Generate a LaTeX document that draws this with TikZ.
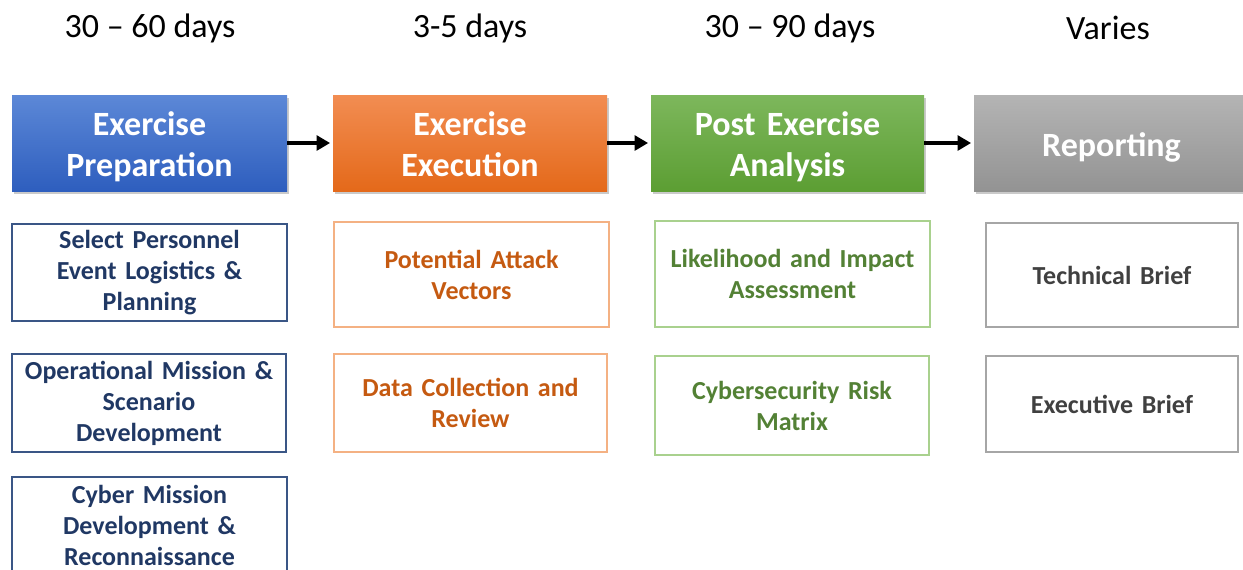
\documentclass[tikz,border=0pt]{standalone}
\usepackage{fontspec}
\setmainfont{Carlito}
\usetikzlibrary{arrows.meta,shadows}

\definecolor{prepTop}{HTML}{5C88D7}
\definecolor{prepBot}{HTML}{2E5EBE}
\definecolor{execTop}{HTML}{F28D52}
\definecolor{execBot}{HTML}{E4691A}
\definecolor{postTop}{HTML}{7DB75C}
\definecolor{postBot}{HTML}{5C9E33}
\definecolor{repTop}{HTML}{B4B4B4}
\definecolor{repBot}{HTML}{939393}
\definecolor{prepText}{HTML}{203864}
\definecolor{prepLine}{HTML}{3A5686}
\definecolor{execText}{HTML}{C55A11}
\definecolor{execLine}{HTML}{F4B183}
\definecolor{postText}{HTML}{538135}
\definecolor{postLine}{HTML}{A9D18E}
\definecolor{repText}{HTML}{404040}
\definecolor{repLine}{HTML}{A6A6A6}

\tikzset{
  days/.style={font=\fontsize{25.5}{30}\selectfont, text=black},
  phase/.style={minimum width=206.25pt, minimum height=72pt, inner sep=0pt,
    drop shadow={shadow xshift=1.5pt, shadow yshift=-2.2pt, opacity=0.35, fill=black!60}},
  phasetext/.style={inner sep=0pt, text width=200pt, align=center, text=white,
    font=\fontsize{25.5}{30.75}\selectfont\bfseries},
  task/.style={draw, line width=0.8pt, inner sep=0pt, align=center,
    font=\fontsize{19.5}{23.25}\selectfont\bfseries},
  flow/.style={->, line width=3pt, shorten >=2pt}
}

\begin{document}
\begin{tikzpicture}[x=0.75pt,y=-0.75pt,>={Triangle[length=10pt,width=11pt]}]
\clip (0,0) rectangle (1243,569);

% durations
\node[days] (dprep) at (150,28) {30 -- 60 days};
\node[days] (dexec) at (470,28) {3-5 days};
\node[days] (dpost) at (790,28) {30 -- 90 days};
\node[days] (drep) at (1108,28) {Varies};

% phases
\node[phase, top color=prepTop, bottom color=prepBot] (prep) at (149.5,143) {};
\node[phase, top color=execTop, bottom color=execBot, minimum width=205.5pt] (exec) at (470,143) {};
\node[phase, top color=postTop, bottom color=postBot, minimum width=204.75pt] (post) at (787.5,143) {};
\node[phase, top color=repTop, bottom color=repBot] (rep) at (1111.5,143) {};
\node[phasetext, yshift=-3pt] (prepT) at (prep) {Exercise\\Preparation};
\node[phasetext, yshift=-0.75pt] (execT) at (exec) {Exercise\\Execution};
\node[phasetext, yshift=-3pt] (postT) at (post) {Post Exercise\\Analysis};
\node[phasetext, yshift=-3pt] (repT) at (rep) {Reporting};

\draw[flow] (prep) -- (exec);
\draw[flow] (exec) -- (post);
\draw[flow] (post) -- (rep);

% preparation tasks
\node[task, draw=prepLine, text=prepText, minimum width=206.25pt, minimum height=72.75pt, text width=200pt] (prepA) at (149.5,272.5) {Select Personnel\\Event Logistics \&\\Planning};
\node[task, draw=prepLine, text=prepText, minimum width=205.5pt, minimum height=73.5pt, text width=200pt] (prepB) at (149,403) {Operational Mission \&\\Scenario\\Development};
\node[task, draw=prepLine, text=prepText, minimum width=206.25pt, minimum height=72pt, text width=200pt] (prepC) at (149.5,525) {Cyber Mission\\Development \&\\Reconnaissance};

% execution tasks
\node[task, draw=execLine, text=execText, minimum width=206.25pt, minimum height=78.75pt, text width=200pt] (execA) at (471.5,274.5) {Potential Attack\\Vectors};
\node[task, draw=execLine, text=execText, minimum width=204.75pt, minimum height=73.5pt, text width=200pt] (execB) at (470.5,403) {Data Collection and\\Review};

% analysis tasks
\node[task, draw=postLine, text=postText, minimum width=206.25pt, minimum height=79.5pt, text width=200pt] (postA) at (792.5,274) {Likelihood and Impact\\Assessment};
\node[task, draw=postLine, text=postText, minimum width=205.5pt, minimum height=74.25pt, text width=200pt] (postB) at (792,405.5) {Cybersecurity Risk\\Matrix};

% reporting tasks
\node[task, draw=repLine, text=repText, minimum width=189pt, minimum height=78pt, text width=180pt] (repA) at (1112,275) {Technical Brief};
\node[task, draw=repLine, text=repText, minimum width=189pt, minimum height=72pt, text width=180pt] (repB) at (1112,404) {Executive Brief};
\end{tikzpicture}
\end{document}
